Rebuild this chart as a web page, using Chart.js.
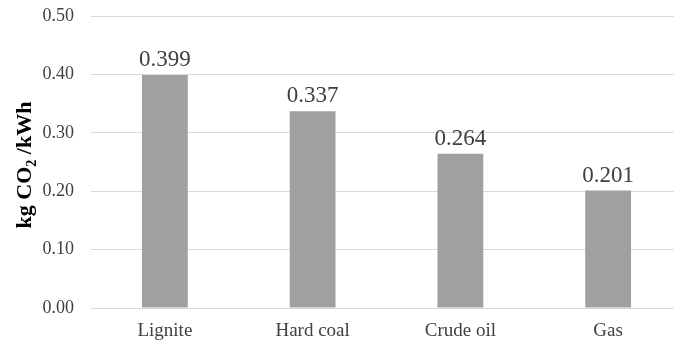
<!DOCTYPE html>
<html>
<head>
<meta charset="utf-8">
<script src="https://cdn.jsdelivr.net/npm/chart.js@4/dist/chart.umd.min.js"></script>
<style>
  html, body { margin: 0; padding: 0; background: #fff; overflow: hidden; }
  #wrap { width: 682px; height: 344px; }
</style>
</head>
<body>
<div id="wrap"><canvas id="c" width="682" height="344"></canvas></div>
<script>
// Emission factors per fuel
const categories = ['Lignite', 'Hard coal', 'Crude oil', 'Gas'];
const emissions = [0.399, 0.337, 0.264, 0.201];
const yTicks = [0.00, 0.10, 0.20, 0.30, 0.40, 0.50];

const SERIF = '"Liberation Serif", "Times New Roman", serif';
const TEXT = '#404040';

// Value labels above each bar
const valueLabels = {
  id: 'valueLabels',
  afterDatasetsDraw(chart) {
    const ctx = chart.ctx;
    const meta = chart.getDatasetMeta(0);
    ctx.save();
    ctx.fillStyle = TEXT;
    ctx.font = '23px ' + SERIF;
    ctx.textAlign = 'center';
    ctx.textBaseline = 'alphabetic';
    meta.data.forEach((bar, i) => {
      ctx.fillText(emissions[i].toFixed(3), bar.x, bar.y - 9);
    });
    ctx.restore();
  }
};

// Vertical axis title with a subscript in CO2
const axisTitle = {
  id: 'axisTitle',
  afterDraw(chart) {
    const ctx = chart.ctx;
    const parts = [
      { t: 'kg CO', size: 22, dy: 0 },
      { t: '2', size: 14, dy: 5 },
      { t: ' /kWh', size: 22, dy: 0 }
    ];
    ctx.save();
    ctx.fillStyle = '#000';
    let total = 0;
    parts.forEach(p => { ctx.font = 'bold ' + p.size + 'px ' + SERIF; p.w = ctx.measureText(p.t).width; total += p.w; });
    ctx.translate(31, 165);
    ctx.rotate(-Math.PI / 2);
    let x = -total / 2;
    ctx.textBaseline = 'alphabetic';
    ctx.textAlign = 'left';
    parts.forEach(p => {
      ctx.font = 'bold ' + p.size + 'px ' + SERIF;
      ctx.fillText(p.t, x, p.dy);
      x += p.w;
    });
    ctx.restore();
  }
};

new Chart(document.getElementById('c'), {
  type: 'bar',
  data: {
    labels: categories,
    datasets: [{
      data: emissions,
      backgroundColor: '#a0a0a0',
      borderWidth: 0,
      categoryPercentage: 1.0,
      barPercentage: 0.31
    }]
  },
  options: {
    responsive: false,
    animation: false,
    layout: { padding: { top: 16, right: 0, bottom: 0, left: 0 } },
    plugins: { legend: { display: false }, tooltip: { enabled: false } },
    scales: {
      x: {
        afterFit(s) { s.height = 36; },
        grid: { display: false },
        border: { display: false },
        ticks: { color: TEXT, font: { family: SERIF, size: 19 }, padding: 4 }
      },
      y: {
        min: 0,
        max: 0.5,
        afterFit(s) { s.width = 91; s.paddingTop = 0; s.paddingBottom = 0; },
        afterBuildTicks(s) { s.ticks = yTicks.map(v => ({ value: v })); },
        grid: { color: '#d9d9d9', lineWidth: 1, drawTicks: false },
        border: { display: false },
        ticks: {
          color: TEXT,
          font: { family: SERIF, size: 18 },
          padding: 17,
          callback: v => Number(v).toFixed(2)
        }
      }
    }
  },
  plugins: [valueLabels, axisTitle]
});
</script>
</body>
</html>
